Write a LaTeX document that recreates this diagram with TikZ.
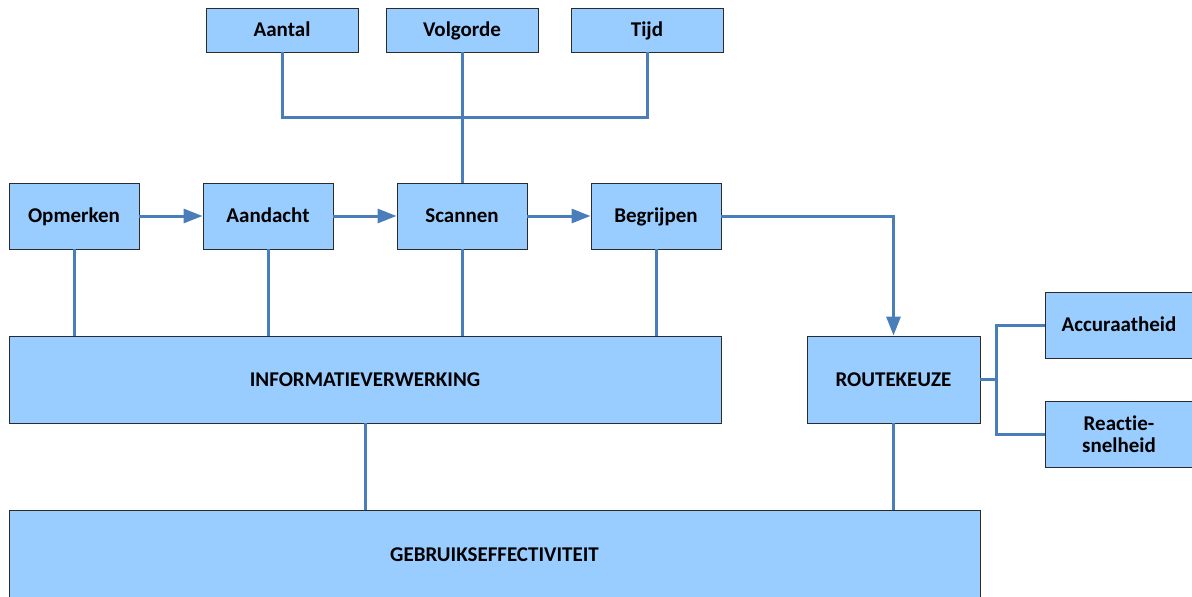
\documentclass[tikz,border=0pt]{standalone}
\usepackage{fontspec}
\setmainfont[Ligatures=NoCommon]{Carlito}
\usetikzlibrary{arrows.meta}
\definecolor{boxblue}{HTML}{99CCFF}
\definecolor{linkblue}{HTML}{4A7EBB}
\definecolor{edgegray}{HTML}{2B2B2B}
\tikzset{
  boxbase/.style={draw=edgegray, fill=boxblue, line width=0.9pt, rectangle, inner sep=0pt,
    font=\fontsize{21}{24}\selectfont\bfseries, align=center},
  box/.style={boxbase, text height=16pt, text depth=3pt},
  link/.style={draw=linkblue, line width=3pt},
  arr/.style={link, -{Triangle[length=19pt,width=14pt]}}
}
\begin{document}
\begin{tikzpicture}[x=1pt,y=-1pt]
\useasboundingbox (0,0) rectangle (1192,597);
% top row
\node[box, minimum width=152pt, minimum height=44pt] (aantal) at (282,30) {Aantal};
\node[box, minimum width=152pt, minimum height=44pt] (volgorde) at (462,30) {Volgorde};
\node[box, minimum width=152pt, minimum height=44pt] (tijd) at (647,30) {Tijd};
% middle row
\node[box, minimum width=130pt, minimum height=66pt] (opmerken) at (74,216) {Opmerken};
\node[box, minimum width=130pt, minimum height=66pt] (aandacht) at (268,216) {Aandacht};
\node[box, minimum width=130pt, minimum height=66pt] (scannen) at (462,216) {Scannen};
\node[box, minimum width=130pt, minimum height=66pt] (begrijpen) at (656,216) {Begrijpen};
% lower row
\node[box, minimum width=712pt, minimum height=87pt] (info) at (365,379.5) {INFORMATIEVERWERKING};
\node[box, minimum width=173pt, minimum height=87pt] (route) at (893.5,379.5) {ROUTEKEUZE};
\node[box, minimum width=148pt, minimum height=66pt] (accur) at (1119,325) {Accuraatheid};
\node[boxbase, minimum width=148pt, minimum height=66pt] (reactie) at (1119,434) {Reactie-\\[-2pt]snelheid};
\node[box, minimum width=971pt, minimum height=90pt] (gebruik) at (494.5,555) {GEBRUIKSEFFECTIVITEIT};
% connectors top
\coordinate (tj) at (462,117);
\draw[link] (aantal.south) |- (tj) -| (tijd.south);
\draw[link] (volgorde.south) -- (scannen.north);
% arrows
\draw[arr] (opmerken.east) -- (aandacht.west);
\draw[arr] (aandacht.east) -- (scannen.west);
\draw[arr] (scannen.east) -- (begrijpen.west);
\draw[arr] (begrijpen.east) -| (route.north);
% to info
\foreach \n in {opmerken,aandacht,scannen,begrijpen}
  \draw[link] (\n.south) -- (\n.south |- info.north);
% to gebruik
\draw[link] (info.south) -- (info.south |- gebruik.north);
\draw[link] (route.south) -- (route.south |- gebruik.north);
% bracket
\coordinate (br) at (996,379.5);
\draw[link] (route.east) -- (br);
\draw[link] (accur.west) -| (br) |- (reactie.west);
\end{tikzpicture}
\end{document}
